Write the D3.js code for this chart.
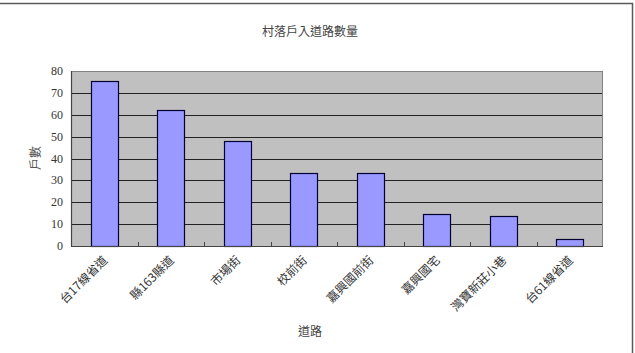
<!DOCTYPE html>
<html>
<head>
<meta charset="utf-8">
<script src="https://cdn.jsdelivr.net/npm/d3@7"></script>
<style>
html,body{margin:0;padding:0;background:#fff;}
svg{display:block;}
</style>
</head>
<body>
<div id="chart"></div>
<script>
/* 村落戶入道路數量 — bar chart, Excel-style grey plot area */
var categories=["台17線省道","縣163縣道","市場街","校前街","嘉興國前街","嘉興國宅","灣寶新莊小巷","台61線省道"];
var values=[75.5,62,48,33.5,33.5,14.5,13.5,3];
var yTicks=[0,10,20,30,40,50,60,70,80];
var title="村落戶入道路數量", xTitle="道路", yTitle="戶數";

var CJK="'Noto Sans CJK TC','Noto Sans CJK SC',sans-serif";
var SERIF="'Liberation Serif','DejaVu Serif',serif";

var W=635,H=353;
var m={left:71,right:603,top:71,bottom:246};
var svg=d3.select("#chart").append("svg").attr("width",W).attr("height",H);

// outer chart frame (only top and right edges fall inside the picture)
svg.append("rect").attr("x",-2).attr("y",3.5).attr("width",634.5).attr("height",H+10)
  .attr("fill","none").attr("stroke","#5a5a5a").attr("stroke-width",1.5);

var x=d3.scaleBand().domain(categories).range([m.left,m.right]).paddingInner(0.6).paddingOuter(0.3);
var xb=d3.scaleBand().domain(categories).range([m.left,m.right]);
var y=d3.scaleLinear().domain([0,80]).range([m.bottom,m.top]);

svg.append("rect").attr("x",m.left).attr("y",m.top).attr("width",m.right-m.left).attr("height",m.bottom-m.top)
  .attr("fill","#c0c0c0");

svg.append("g").selectAll("line").data(yTicks.filter(function(d){return d>0;})).enter().append("line")
  .attr("x1",m.left).attr("x2",m.right).attr("y1",function(d){return Math.round(y(d))+0.5;}).attr("y2",function(d){return Math.round(y(d))+0.5;})
  .attr("stroke","#222").attr("stroke-width",1);

svg.append("rect").attr("x",m.left+0.5).attr("y",m.top+0.5).attr("width",m.right-m.left-1).attr("height",m.bottom-m.top)
  .attr("fill","none").attr("stroke","#808080").attr("stroke-width",1);

svg.append("g").selectAll("rect").data(values).enter().append("rect")
  .attr("x",function(d,i){return Math.round(x(categories[i]))+0.5;})
  .attr("y",function(d){return Math.round(y(d))+0.5;})
  .attr("width",Math.round(x.bandwidth()))
  .attr("height",function(d){return m.bottom-Math.round(y(d));})
  .attr("fill","#9999ff").attr("stroke","#000033").attr("stroke-width",1.2);

// axes
svg.append("line").attr("x1",m.left).attr("x2",m.right).attr("y1",m.bottom+0.5).attr("y2",m.bottom+0.5).attr("stroke","#444").attr("stroke-width",1.2);
svg.append("line").attr("x1",m.left+0.5).attr("x2",m.left+0.5).attr("y1",m.top).attr("y2",m.bottom).attr("stroke","#444").attr("stroke-width",1.2);
svg.append("g").selectAll("line").data(categories.slice(1)).enter().append("line")
  .attr("x1",function(d){return Math.round(xb(d))+0.5;}).attr("x2",function(d){return Math.round(xb(d))+0.5;})
  .attr("y1",m.bottom-4).attr("y2",m.bottom).attr("stroke","#444");

svg.append("g").selectAll("text").data(yTicks).enter().append("text")
  .attr("font-family",SERIF).attr("x",m.left-8).attr("y",function(d){return y(d)+4;})
  .attr("text-anchor","end").attr("font-size",12).attr("fill","#333")
  .text(function(d){return d;});

svg.append("g").selectAll("text").data(categories).enter().append("text")
  .attr("font-family",CJK).attr("font-size",12).attr("fill","#333").attr("text-anchor","end")
  .attr("transform",function(d){return "translate("+(xb(d)+xb.bandwidth()/2+4)+","+(m.bottom+15)+") rotate(-45)";})
  .text(function(d){return d;});

svg.append("text").attr("font-family",CJK).attr("x",310).attr("y",36).attr("text-anchor","middle")
  .attr("font-size",12).attr("fill","#444").text(title);
svg.append("text").attr("font-family",CJK).attr("x",310).attr("y",336).attr("text-anchor","middle")
  .attr("font-size",12).attr("fill","#444").text(xTitle);
svg.append("text").attr("font-family",CJK).attr("transform","translate(40,158) rotate(-90)").attr("text-anchor","middle")
  .attr("font-size",12).attr("fill","#555").text(yTitle);
</script>
</body>
</html>
